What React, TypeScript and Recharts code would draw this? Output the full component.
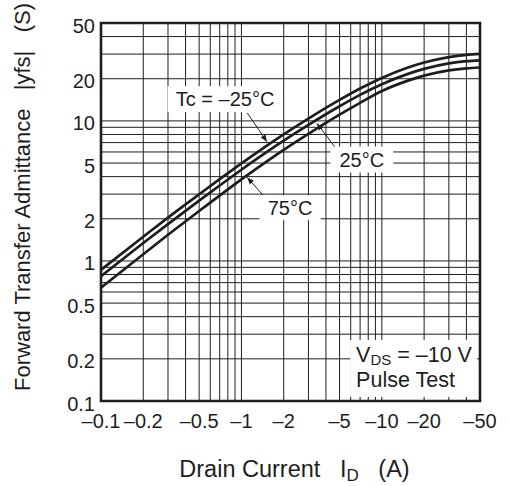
import React from "react";
import {
  LineChart,
  Line,
  XAxis,
  YAxis,
  ReferenceLine,
  ReferenceArea,
  ReferenceDot,
} from "recharts";

// drain current |ID| (A), plotted on log axis
const current = [0.1, 0.2, 0.3, 0.5, 0.7, 1, 1.5, 2, 3, 5, 7, 10, 15, 20, 30, 40, 50];
// |yfs| (S) per case temperature
const yfsMinus25 = [0.864, 1.49, 2.04, 2.99, 3.84, 4.97, 6.61, 8.02, 10.39, 14.12, 17.02, 20.26, 23.84, 26.09, 28.55, 29.63, 30.07];
const yfs25 = [0.778, 1.343, 1.834, 2.695, 3.455, 4.477, 5.952, 7.222, 9.36, 12.72, 15.33, 18.25, 21.48, 23.5, 25.72, 26.69, 27.09];
const yfs75 = [0.645, 1.117, 1.537, 2.275, 2.927, 3.823, 5.102, 6.215, 8.086, 11.07, 13.45, 16.34, 19.23, 21.04, 22.93, 23.7, 24.06];

const xTicks = [0.1, 0.2, 0.5, 1, 2, 5, 10, 20, 50];
const yTicks = [0.1, 0.2, 0.5, 1, 2, 5, 10, 20, 50];
const gridValues = [0.2, 0.3, 0.4, 0.5, 0.6, 0.7, 0.8, 0.9, 1, 2, 3, 4, 5, 6, 7, 8, 9, 10, 20, 30, 40];

const data = current.map((x, i) => ({
  x,
  t1: yfsMinus25[i],
  t2: yfs25[i],
  t3: yfs75[i],
}));

const FONT = '"Liberation Sans", Arial, Helvetica, sans-serif';
const INK = "#1e1e1e";

// temperature callouts: label anchor + arrow in data coords
const callouts = [
  { text: "Tc = \u201325\u00B0C", x: 0.765, y: 14.3, w: 115, h: 26, from: [1.1, 11.4], to: [1.52, 7.1] },
  { text: "25\u00B0C", x: 7.2, y: 5.3, w: 63, h: 26, from: [4.64, 6.5], to: [3.45, 9.6] },
  { text: "75\u00B0C", x: 2.22, y: 2.4, w: 61, h: 25, from: [1.42, 2.96], to: [1.1, 3.95] },
];

const XTick = ({ x, y, payload }: any) => (
  <text x={x} y={y} dy={27} textAnchor="middle" fontSize={20} fontFamily={FONT} fill={INK}>
    {"\u2013" + payload.value}
  </text>
);

const YTick = ({ x, y, payload }: any) => (
  <text x={x} y={y} dx={-6} dy={9.5} textAnchor="end" fontSize={20} fontFamily={FONT} fill={INK}>
    {payload.value}
  </text>
);

const calloutShape = (text: string, w: number, h: number) => (p: any) => (
  <g>
    <rect x={p.cx - w / 2} y={p.cy - h / 2} width={w} height={h} fill="#fff" />
    <text x={p.cx} y={p.cy} dy={7} textAnchor="middle" fontSize={20} fontFamily={FONT} fill={INK}>
      {text}
    </text>
  </g>
);

const arrowShape = (p: any) => (
  <line x1={p.x1} y1={p.y1} x2={p.x2} y2={p.y2} stroke={INK} strokeWidth={1} markerEnd="url(#arrowHead)" />
);

const conditionShape = (p: any) => (
  <g fontFamily={FONT} fontSize={21.5} fill={INK}>
    <rect x={p.cx} y={p.cy} width={127} height={57} fill="#fff" />
    <text x={p.cx + 6} y={p.cy + 22}>
      V<tspan fontSize={15} dy={3.5}>DS</tspan>
      <tspan dy={-3.5}>{" = \u201310 V"}</tspan>
    </text>
    <text x={p.cx + 6} y={p.cy + 47}>Pulse Test</text>
  </g>
);

export default function App() {
  return (
    <div style={{ position: "absolute", left: 0, top: 0, width: 509, height: 486, background: "#fff" }}>
      <svg width={0} height={0} style={{ position: "absolute" }}>
        <defs>
          <marker id="arrowHead" viewBox="0 0 10 10" refX={10} refY={5} markerWidth={7} markerHeight={7} orient="auto" markerUnits="userSpaceOnUse">
            <path d="M0,1 L10,5 L0,9 Z" fill={INK} />
          </marker>
        </defs>
      </svg>
      <LineChart width={509} height={486} data={data} margin={{ top: 23, right: 29, bottom: 0, left: 0 }}>
        <XAxis
          dataKey="x"
          type="number"
          scale="log"
          domain={[0.1, 50]}
          allowDataOverflow
          ticks={xTicks}
          tick={<XTick />}
          tickLine={false}
          axisLine={false}
          tickSize={0}
          tickMargin={0}
          height={85}
          interval={0}
          label={{
            content: (props: any) => {
              const vb = props.viewBox;
              return (
                <text x={vb.x + vb.width / 2 + 4} y={477} textAnchor="middle" fontSize={23.5} fontFamily={FONT} fill={INK}>
                  {"Drain Current\u00A0\u00A0\u00A0I"}
                  <tspan fontSize={17} dy={4}>D</tspan>
                  <tspan dy={-4}>{"\u00A0\u00A0\u00A0(A)"}</tspan>
                </text>
              );
            },
          }}
        />
        <YAxis
          type="number"
          scale="log"
          domain={[0.1, 50]}
          allowDataOverflow
          ticks={yTicks}
          tick={<YTick />}
          tickLine={false}
          axisLine={false}
          tickSize={0}
          tickMargin={0}
          width={101}
          interval={0}
          label={{
            content: () => (
              <text transform="translate(30,197) rotate(-90)" textAnchor="middle" fontSize={22} fontFamily={FONT} fill={INK}>
                {"Forward Transfer Admittance\u00A0\u00A0\u00A0|yfs|\u00A0\u00A0\u00A0(S)"}
              </text>
            ),
          }}
        />
        {gridValues.map((v) => (
          <ReferenceLine key={"gx" + v} x={v} stroke={INK} strokeWidth={1} />
        ))}
        {gridValues.map((v) => (
          <ReferenceLine key={"gy" + v} y={v} stroke={INK} strokeWidth={1} />
        ))}
        <Line dataKey="t1" type="monotone" stroke={INK} strokeWidth={2.7} dot={false} isAnimationActive={false} />
        <Line dataKey="t2" type="monotone" stroke={INK} strokeWidth={2.7} dot={false} isAnimationActive={false} />
        <Line dataKey="t3" type="monotone" stroke={INK} strokeWidth={2.7} dot={false} isAnimationActive={false} />
        {callouts.map((c) => (
          <ReferenceDot key={c.text} x={c.x} y={c.y} shape={calloutShape(c.text, c.w, c.h)} />
        ))}
        {callouts.map((c) => (
          <ReferenceLine
            key={"a" + c.text}
            segment={[
              { x: c.from[0], y: c.from[1] },
              { x: c.to[0], y: c.to[1] },
            ]}
            shape={arrowShape}
          />
        ))}
        <ReferenceDot x={5.94} y={0.273} shape={conditionShape} />
        <ReferenceArea x1={0.1} x2={50} y1={0.1} y2={50} fill="none" stroke={INK} strokeWidth={2.6} />
      </LineChart>
    </div>
  );
}
